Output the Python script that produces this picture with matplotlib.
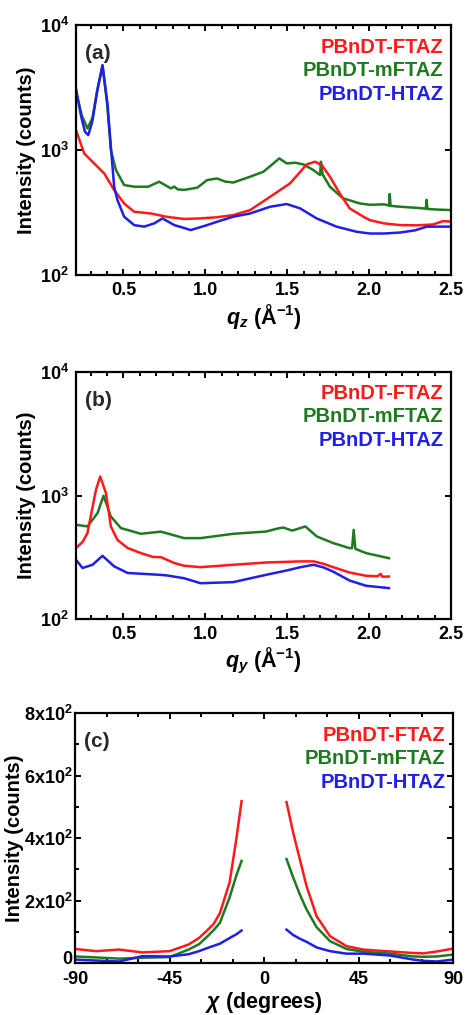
import matplotlib
matplotlib.use('Agg')
import matplotlib.pyplot as plt
import matplotlib.transforms as mtransforms
from matplotlib.ticker import MultipleLocator, FixedLocator, FixedFormatter

plt.rcParams['font.family'] = ['Liberation Sans', 'DejaVu Sans']
plt.rcParams['font.weight'] = 'bold'
plt.rcParams['axes.unicode_minus'] = False
plt.rcParams['mathtext.fontset'] = 'custom'
plt.rcParams['mathtext.rm'] = 'Liberation Sans:bold'
plt.rcParams['mathtext.bf'] = 'Liberation Sans:bold'
plt.rcParams['mathtext.it'] = 'Liberation Sans:bold:italic'

RED, GREEN, BLUE = '#ff1a1a', '#1f7a1f', '#1f1fe6'
names = ['PBnDT-FTAZ', 'PBnDT-mFTAZ', 'PBnDT-HTAZ']

# ---- (a) out-of-plane, q_z ----
qz_ftaz = [0.21, 0.26, 0.321, 0.382, 0.443, 0.504, 0.565, 0.667, 0.76, 0.87, 0.97, 1.07, 1.17, 1.273,
           1.395, 1.516, 1.57, 1.618, 1.669, 1.71, 1.76, 1.82, 1.88, 1.964, 2.004, 2.09, 2.19, 2.29,
           2.39, 2.45, 2.5]
i_ftaz = [1445, 940, 782, 651, 479, 374, 321, 311, 293, 281, 284, 290, 302, 331,
          423, 541, 650, 768, 807, 759, 612, 450, 342, 293, 275, 259, 251, 250,
          254, 270, 268]

qz_mftaz = [0.21, 0.245, 0.28, 0.31, 0.34, 0.372, 0.40, 0.423, 0.454, 0.504, 0.565, 0.65, 0.718, 0.789,
            0.81, 0.83, 0.87, 0.95, 1.01, 1.07, 1.12, 1.17, 1.273, 1.354, 1.415, 1.451, 1.496, 1.547,
            1.598, 1.659, 1.70, 1.705, 1.715, 1.76, 1.84, 1.943, 2.004, 2.09, 2.12, 2.125, 2.13,
            2.19, 2.29, 2.345, 2.35, 2.355, 2.42, 2.5]
i_mftaz = [2950, 1900, 1490, 1800, 3000, 4700, 2360, 1000, 692, 525, 509, 509, 558, 494,
           510, 485, 480, 500, 575, 593, 560, 550, 612, 671, 782, 858, 782, 792,
           768, 692, 631, 807, 640, 509, 411, 374, 365, 368, 360, 445, 358,
           352, 345, 340, 400, 338, 334, 331]

qz_htaz = [0.21, 0.24, 0.265, 0.285, 0.31, 0.34, 0.372, 0.402, 0.423, 0.443, 0.463, 0.504, 0.565, 0.626,
           0.687, 0.738, 0.81, 0.87, 0.91, 1.01, 1.09, 1.17, 1.273, 1.395, 1.496, 1.577, 1.679, 1.8,
           1.923, 2.004, 2.09, 2.19, 2.28, 2.35, 2.42, 2.5]
i_htaz = [3100, 1900, 1400, 1318, 1700, 3000, 4790, 2360, 1060, 510, 398, 293, 251, 244,
          259, 284, 251, 238, 229, 251, 272, 293, 311, 352, 370, 342, 284, 244,
          222, 215, 215, 219, 228, 244, 244, 244]

# ---- (b) in-plane, q_y ----
qy_ftaz = [0.21, 0.25, 0.28, 0.332, 0.358, 0.393, 0.423, 0.463, 0.525, 0.606, 0.68, 0.728, 0.81, 0.87,
           0.97, 1.17, 1.37, 1.58, 1.66, 1.72, 1.78, 1.88, 1.98, 2.05, 2.07, 2.08, 2.12]
i_ftaz_b = [376, 420, 497, 1112, 1425, 1045, 562, 437, 376, 342, 318, 317, 284, 270,
            263, 275, 287, 293, 293, 280, 263, 238, 224, 222, 232, 220, 221]

qy_mftaz = [0.21, 0.28, 0.342, 0.378, 0.423, 0.484, 0.606, 0.728, 0.87, 0.97, 1.17, 1.37, 1.44, 1.475,
            1.53, 1.61, 1.68, 1.78, 1.88, 1.895, 1.905, 1.915, 1.98, 2.12]
i_mftaz_b = [580, 562, 722, 995, 676, 545, 490, 510, 452, 452, 490, 511, 540, 551,
             520, 562, 466, 412, 375, 375, 527, 370, 342, 311]

qy_htaz = [0.21, 0.25, 0.311, 0.372, 0.443, 0.525, 0.7, 0.76, 0.87, 0.97, 1.17, 1.37, 1.50, 1.58,
           1.66, 1.72, 1.78, 1.88, 1.98, 2.12]
i_htaz_b = [302, 259, 275, 325, 267, 236, 229, 226, 214, 195, 199, 228, 248, 263,
            275, 262, 242, 205, 186, 178]

# ---- (c) azimuthal, chi (gap around 0) ----
chi_l = [-90, -80, -69, -58, -45, -36, -31, -27, -24, -21, -16.4, -13.2, -10.7]
c_ftaz_l = [45, 38, 43, 34, 38, 59, 80, 105, 125, 160, 258, 397, 518]
c_mftaz_l = [21, 18, 14, 17, 19, 43, 60, 85, 105, 129, 210, 280, 327]
c_htaz_l = [11, 8, 5, 22, 21, 28, 38, 48, 55, 62, 80, 92, 104]

chi_r = [10.7, 13.8, 17.0, 20.2, 25.0, 31.4, 39.3, 47.3, 60, 71.2, 76, 82.3, 90]
c_ftaz_r = [515, 419, 333, 247, 150, 86, 54, 43, 37, 32, 31, 37, 46]
c_mftaz_r = [333, 275, 220, 172, 115, 70, 45, 36, 30, 21, 20, 21, 27]
c_htaz_r = [107, 90, 78, 68, 50, 38, 30, 30, 24, 11, 7, 5, 11]

fig = plt.figure(figsize=(4.69, 10.15), dpi=100)
ax_a = fig.add_axes([0.162, 0.729, 0.80, 0.2463])
ax_b = fig.add_axes([0.162, 0.3901, 0.80, 0.2434])
ax_c = fig.add_axes([0.160, 0.0512, 0.806, 0.2463])


def style(ax):
    for s in ax.spines.values():
        s.set_linewidth(1.6)
    ax.tick_params(which='both', direction='in', top=True, right=True, width=1.4,
                   labelsize=13, pad=5)
    ax.tick_params(which='major', length=4.5)
    ax.tick_params(which='minor', length=3)
    for lab in ax.get_xticklabels() + ax.get_yticklabels():
        lab.set_fontweight('bold')


def labels(ax, tag):
    ax.text(0.025, 0.885, tag, transform=ax.transAxes, fontsize=15, fontweight='bold',
            color='#2a2a2a', va='center', ha='left')
    for k, (nm, col) in enumerate(zip(names, [RED, GREEN, BLUE])):
        ax.text(0.98, 0.912 - k * 0.094, nm, transform=ax.transAxes, fontsize=14.5,
                fontweight='bold', color=col, ha='right', va='center')


for ax, xs, ys, tag, xl in [
        (ax_a, [qz_ftaz, qz_mftaz, qz_htaz], [i_ftaz, i_mftaz, i_htaz], '(a)', r'$q_z$ (Å$^{-1}$)'),
        (ax_b, [qy_ftaz, qy_mftaz, qy_htaz], [i_ftaz_b, i_mftaz_b, i_htaz_b], '(b)', r'$q_y$ (Å$^{-1}$)')]:
    ax.plot(xs[1], ys[1], color=GREEN, lw=1.8)
    ax.plot(xs[0], ys[0], color=RED, lw=1.8)
    ax.plot(xs[2], ys[2], color=BLUE, lw=1.8)
    ax.set_yscale('log')
    ax.set_ylim(100, 10000)
    ax.set_xlim(0.21, 2.5)
    ax.xaxis.set_major_locator(FixedLocator([0.5, 1.0, 1.5, 2.0, 2.5]))
    ax.xaxis.set_major_formatter(FixedFormatter(['0.5', '1.0', '1.5', '2.0', '2.5']))
    ax.xaxis.set_minor_locator(MultipleLocator(0.1))
    ax.yaxis.set_minor_locator(FixedLocator([]))
    ax.set_ylabel('Intensity (counts)', fontsize=14.5, fontweight='bold', labelpad=3)
    ax.set_xlabel(xl, fontsize=15.5, fontweight='bold', labelpad=2)
    style(ax)
    labels(ax, tag)

ax = ax_c
ax.plot(chi_l, c_ftaz_l, color=RED, lw=1.8)
ax.plot(chi_r, c_ftaz_r, color=RED, lw=1.8)
ax.plot(chi_l, c_mftaz_l, color=GREEN, lw=1.8)
ax.plot(chi_r, c_mftaz_r, color=GREEN, lw=1.8)
ax.plot(chi_l, c_htaz_l, color=BLUE, lw=1.8)
ax.plot(chi_r, c_htaz_r, color=BLUE, lw=1.8)
ax.set_xlim(-90, 90)
ax.set_ylim(0, 800)
ax.xaxis.set_major_locator(FixedLocator([-90, -45, 0, 45, 90]))
ax.xaxis.set_minor_locator(MultipleLocator(15))
ax.yaxis.set_major_locator(FixedLocator([0, 200, 400, 600, 800]))
ax.yaxis.set_major_formatter(FixedFormatter(['0', r'2x10$^2$', r'4x10$^2$', r'6x10$^2$', r'8x10$^2$']))
ax.yaxis.set_minor_locator(MultipleLocator(100))
ax.set_ylabel('Intensity (counts)', fontsize=14.5, fontweight='bold', labelpad=0)
ax.set_xlabel(r'$\chi$ (degrees)', fontsize=15.5, fontweight='bold', labelpad=1)
style(ax)
ax.tick_params(axis='y', pad=2)
ax.tick_params(axis='x', pad=6)
labels(ax, '(c)')

# nudge the "0" label up so it clears "-90"
zero_lab = ax.get_yticklabels()[0]
zero_lab.set_transform(zero_lab.get_transform() +
                       mtransforms.ScaledTranslation(0, 4 / 72, fig.dpi_scale_trans))

fig.savefig('out.png', dpi=100)
